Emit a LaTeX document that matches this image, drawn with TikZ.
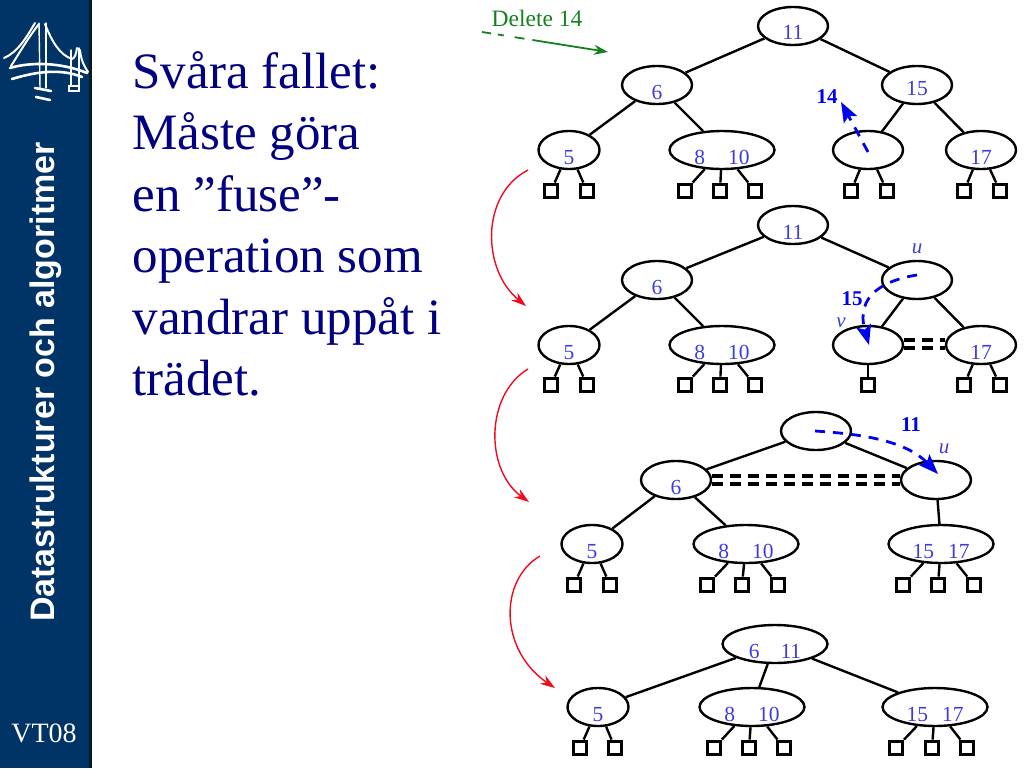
\documentclass[tikz,border=0pt]{standalone}
\usepackage{fontspec}
\setmainfont{Liberation Serif}
\newfontfamily\barfont{Liberation Sans}
\usetikzlibrary{shapes.geometric,arrows.meta}
\definecolor{barblue}{RGB}{0,51,102}
\definecolor{bardark}{RGB}{12,24,38}
\definecolor{slideblue}{RGB}{0,0,128}
\definecolor{keyblue}{RGB}{60,60,225}
\definecolor{moveblue}{RGB}{0,0,240}
\definecolor{notegreen}{RGB}{20,130,30}
\definecolor{stepred}{RGB}{240,10,30}
% digits sit low inside the ellipses
\newcommand{\low}[2][-14pt]{\raisebox{#1}[0pt][0pt]{#2}}
\begin{document}
\begin{tikzpicture}[
  x=1pt, y=-1pt,
  knot/.style = {draw, ellipse, line width=2.4pt, inner sep=0pt, minimum width=70pt, minimum height=38pt,
    text=keyblue, font=\fontsize{21.5}{21.5}\selectfont},
  smallknot/.style = {knot, minimum width=61pt},
  wideknot/.style = {knot, minimum width=105pt},
  leaf/.style = {draw, line width=3.4pt, inner sep=0pt, minimum size=13.5pt},
  link/.style = {line width=2.4pt},
  fuse/.style = {line width=3.4pt, dash pattern=on 11pt off 7pt},
  stepline/.style = {stepred, line width=1.4pt, -{Stealth[length=15pt,width=10pt]}},
  move/.style = {moveblue, line width=2.8pt, dash pattern=on 10pt off 8pt, -{Stealth[length=20pt,width=15pt,inset=4pt]}},
  movelabel/.style = {moveblue, font=\bfseries\fontsize{21}{21}\selectfont},
  vlabel/.style = {keyblue, font=\itshape\fontsize{21}{21}\selectfont},
  logo/.style = {white, line width=2pt, line cap=round}
]
\useasboundingbox (0,0) rectangle (1024,768);

% Side bar
\fill [bardark] (0,0) rectangle (92,768);
\fill [barblue] (0,0) rectangle (89,768);
\node [rotate=90, white, font=\barfont\bfseries\fontsize{34}{34}\selectfont] (bartitle) at (46,382) {Datastrukturer och algoritmer};
\node [white, font=\fontsize{28}{28}\selectfont] (term) at (44,733) {VT08};

% Bridge logo
\draw [logo] (4,58) .. controls (18,52) and (26,38) .. (35,23);
\draw [logo] (11,66) .. controls (20,52) and (28,38) .. (39,24);
\draw [logo] (45,24) .. controls (52,42) and (60,55) .. (72,59) .. controls (75,58) and (76,54) .. (77,48);
\draw [logo, line width=1.4pt] (39,23) -- (40,88);
\draw [logo, line width=1.4pt] (46,23) -- (46,88);
\draw [logo, line width=1.4pt] (71,50) -- (71,86);
\draw [logo, line width=1.4pt] (79,48) -- (79,86);
\draw [logo] (80,50) .. controls (81,60) and (84,66) .. (88,72);
\draw [logo, line width=2.6pt] (10,68) .. controls (30,62) and (60,62) .. (87,73);
\draw [logo, line width=2.6pt] (12,79) .. controls (35,72) and (60,68) .. (82,77);
\draw [logo, line width=2.6pt] (35,88) -- (51,91);
\draw [logo, line width=2.6pt] (36,97) -- (50,100);
\draw [logo, line width=1.4pt] (69,86) rectangle (79,91);

% Text
\node [anchor=north west, align=left, text=slideblue, font=\fontsize{51}{61.5}\selectfont] (body) at (129,48)
  {Svåra fallet:\\Måste göra\\en ”fuse”-\\operation som\\vandrar uppåt i\\trädet.};

% Note at top
\node [text=notegreen, font=\fontsize{23.5}{23.5}\selectfont] (note) at (537,18) {Delete 14};
\coordinate (notefrom) at (482,32);
\coordinate (noteto) at (608,52);
\draw [notegreen, line width=1.8pt, dash pattern=on 9pt off 7pt on 6pt off 11pt on 10pt off 8pt on 200pt off 0pt,
  -{Stealth[length=14pt,width=10pt]}] (notefrom) -- (noteto);

% Tree 1: y=26, 85, 150, 191
\node [knot] (a11) at (793,26) {\low{11}};
\node [knot] (a6) at (657,85) {\low{6}};
\node [knot] (a15) at (917,85) {\low[-10pt]{15}};
\node [smallknot] (a5) at (569,150) {\low{5}};
\node [wideknot] (a8) at (722,150) {\low{8\hspace{23pt}10}};
\node [knot] (a14) at (868,150) {};
\node [knot] (a17) at (981,150) {\low{17}};
\node [leaf] (al1) at (551,191) {};
\node [leaf] (al2) at (587,191) {};
\node [leaf] (al3) at (685,191) {};
\node [leaf] (al4) at (720,191) {};
\node [leaf] (al5) at (755,191) {};
\node [leaf] (al6) at (851,191) {};
\node [leaf] (al7) at (887,191) {};
\node [leaf] (al8) at (964,191) {};
\node [leaf] (al9) at (1000,191) {};

\draw [link] (a11) -- (a6);
\draw [link] (a11) -- (a15);
\draw [link] (a6) -- (a5);
\draw [link] (a6) -- (a8);
\draw [link] (a15) -- (a14);
\draw [link] (a15) -- (a17);
\draw [link] (a5) -- (al1);
\draw [link] (a5) -- (al2);
\draw [link] (a8) -- (al3);
\draw [link] (a8) -- (al4);
\draw [link] (a8) -- (al5);
\draw [link] (a14) -- (al6);
\draw [link] (a14) -- (al7);
\draw [link] (a17) -- (al8);
\draw [link] (a17) -- (al9);

\coordinate (afrom) at (868,152);
\coordinate (ato) at (841,102);
\draw [move] (afrom) -- (ato);
\node [movelabel] (amove) at (827,97) {14};

% Tree 2: y=225, 280, 345, 385
\node [knot] (b11) at (793,225) {\low{11}};
\node [knot] (b6) at (657,280) {\low{6}};
\node [knot] (b15) at (917,280) {};
\node [smallknot] (b5) at (569,345) {\low{5}};
\node [wideknot] (b8) at (722,345) {\low{8\hspace{23pt}10}};
\node [knot] (bv) at (868,345) {};
\node [knot] (b17) at (981,345) {\low{17}};
\node [leaf] (bl1) at (551,385) {};
\node [leaf] (bl2) at (587,385) {};
\node [leaf] (bl3) at (685,385) {};
\node [leaf] (bl4) at (720,385) {};
\node [leaf] (bl5) at (755,385) {};
\node [leaf] (bl6) at (868,385) {};
\node [leaf] (bl7) at (964,385) {};
\node [leaf] (bl8) at (1000,385) {};

\draw [link] (b11) -- (b6);
\draw [link] (b11) -- (b15);
\draw [link] (b6) -- (b5);
\draw [link] (b6) -- (b8);
\draw [link] (b15) -- (bv);
\draw [link] (b15) -- (b17);
\draw [link] (b5) -- (bl1);
\draw [link] (b5) -- (bl2);
\draw [link] (b8) -- (bl3);
\draw [link] (b8) -- (bl4);
\draw [link] (b8) -- (bl5);
\draw [link] (bv) -- (bl6);
\draw [link] (b17) -- (bl7);
\draw [link] (b17) -- (bl8);
\draw [fuse] ([yshift=5pt]bv.east) -- ([yshift=5pt]b17.west);
\draw [fuse] ([yshift=-3pt]bv.east) -- ([yshift=-3pt]b17.west);

\coordinate (bfrom) at (917,275);
\coordinate (bto) at (869,345);
\draw [move] (bfrom) .. controls (885,280) and (855,295) .. (bto);
\node [movelabel] (bmove) at (852,299) {15};
\node [vlabel] (blabelu) at (917,249) {u};
\node [vlabel] (blabelv) at (841,323) {v};

% Tree 3: y=431, 480, 544, 585
\node [knot] (c11) at (816,431) {};
\node [knot] (c6) at (676,480) {\low{6}};
\node [knot] (cu) at (936,480) {};
\node [smallknot] (c5) at (592,544) {\low{5}};
\node [wideknot] (c8) at (746,544) {\low{8\hspace{23pt}10}};
\node [wideknot] (c15) at (941,544) {\low{15\hspace{14pt}17}};
\node [leaf] (cl1) at (574,585) {};
\node [leaf] (cl2) at (610,585) {};
\node [leaf] (cl3) at (707,585) {};
\node [leaf] (cl4) at (742,585) {};
\node [leaf] (cl5) at (778,585) {};
\node [leaf] (cl6) at (903,585) {};
\node [leaf] (cl7) at (938,585) {};
\node [leaf] (cl8) at (974,585) {};

\draw [link] (c11) -- (c6);
\draw [link] (c11) -- (cu);
\draw [link] (c6) -- (c5);
\draw [link] (c6) -- (c8);
\draw [link] (cu) -- (c15);
\draw [link] (c5) -- (cl1);
\draw [link] (c5) -- (cl2);
\draw [link] (c8) -- (cl3);
\draw [link] (c8) -- (cl4);
\draw [link] (c8) -- (cl5);
\draw [link] (c15) -- (cl6);
\draw [link] (c15) -- (cl7);
\draw [link] (c15) -- (cl8);
\draw [fuse] ([yshift=4pt]c6.east) -- ([yshift=4pt]cu.west);
\draw [fuse] ([yshift=-4pt]c6.east) -- ([yshift=-4pt]cu.west);

\coordinate (cfrom) at (815,431);
\coordinate (cto) at (938,474);
\draw [move] (cfrom) .. controls (860,434) and (905,440) .. (cto);
\node [movelabel] (cmove) at (911,425) {11};
\node [vlabel] (clabelu) at (944,449) {u};

% Tree 4: y=644, 707, 748
\node [wideknot] (d6) at (775,644) {\low{6\hspace{21pt}11}};
\node [smallknot] (d5) at (598,707) {\low{5}};
\node [wideknot] (d8) at (752,707) {\low{8\hspace{23pt}10}};
\node [wideknot] (d15) at (935,707) {\low{15\hspace{14pt}17}};
\node [leaf] (dl1) at (580,748) {};
\node [leaf] (dl2) at (615,748) {};
\node [leaf] (dl3) at (714,748) {};
\node [leaf] (dl4) at (749,748) {};
\node [leaf] (dl5) at (784,748) {};
\node [leaf] (dl6) at (896,748) {};
\node [leaf] (dl7) at (932,748) {};
\node [leaf] (dl8) at (967,748) {};

\draw [link] (d6) -- (d5);
\draw [link] (d6) -- (d8);
\draw [link] (d6) -- (d15);
\draw [link] (d5) -- (dl1);
\draw [link] (d5) -- (dl2);
\draw [link] (d8) -- (dl3);
\draw [link] (d8) -- (dl4);
\draw [link] (d8) -- (dl5);
\draw [link] (d15) -- (dl6);
\draw [link] (d15) -- (dl7);
\draw [link] (d15) -- (dl8);

% Red arrows between trees
\coordinate (step1from) at (528,170);
\coordinate (step1to) at (526,306);
\coordinate (step2from) at (528,369);
\coordinate (step2to) at (529,502);
\coordinate (step3from) at (540,556);
\coordinate (step3to) at (555,688);
\draw [stepline] (step1from) .. controls (480,195) and (482,270) .. (step1to);
\draw [stepline] (step2from) .. controls (485,395) and (485,470) .. (step2to);
\draw [stepline] (step3from) .. controls (499,580) and (499,650) .. (step3to);

\end{tikzpicture}
\end{document}
